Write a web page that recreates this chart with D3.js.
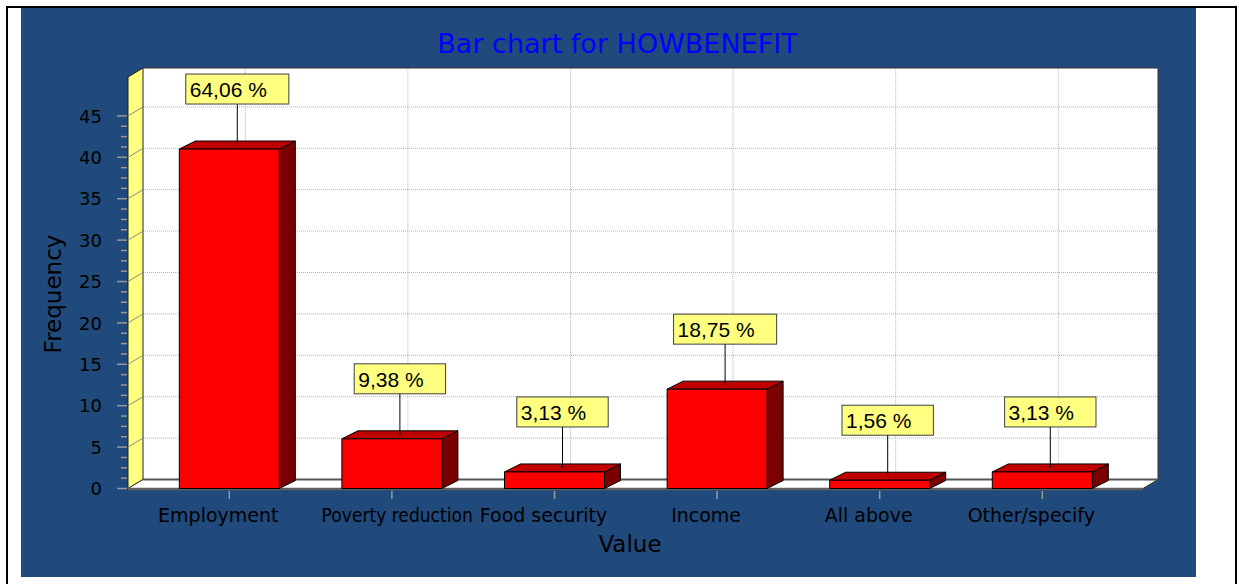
<!DOCTYPE html>
<html><head><meta charset="utf-8">
<script src="https://cdn.jsdelivr.net/npm/d3@7"></script>
<style>html,body{margin:0;padding:0;background:#fff;}svg{display:block;}</style>
</head><body>
<svg id="chart" width="1239" height="584"></svg>
<script>
const categories = ["Employment","Poverty reduction","Food security","Income","All above","Other/specify"];
const counts = [41, 6, 2, 12, 1, 2];
const percentLabels = ["64,06 %","9,38 %","3,13 %","18,75 %","1,56 %","3,13 %"];
const yTickValues = [0,5,10,15,20,25,30,35,40,45];
const yMinorStep = 1.25;
const yMax = 49.7;
const titleText = "Bar chart for HOWBENEFIT";
const xTitle = "Value", yTitle = "Frequency";

const svg = d3.select("#chart");
const W = 1239, H = 584;

// frame
svg.append("rect").attr("x",0).attr("y",0).attr("width",W).attr("height",H).attr("fill","#fff");
svg.append("rect").attr("x",21).attr("y",8).attr("width",1175).attr("height",569).attr("fill","#20497c");
svg.append("rect").attr("x",7).attr("y",7).attr("width",1229).attr("height",610)
  .attr("fill","none").attr("stroke","#000").attr("stroke-width",2);

// geometry
const frontL = 128, frontR = 1143;
const wdx = 15;            // wall depth
const bdx = 16, bdy = -8;  // bar depth
const yF = d3.scaleLinear().domain([0, yMax]).range([488.5, 77]);
const yB = d3.scaleLinear().domain([0, yMax]).range([479.5, 68]);
const x = d3.scaleBand().domain(categories).range([148, 1123.6]).padding(0);
const cx = c => x(c) + x.bandwidth()/2;
const barW = 100;

// back wall
svg.append("rect").attr("x",frontL+wdx).attr("y",yB(yMax))
  .attr("width",(frontR+wdx)-(frontL+wdx)).attr("height",yB(0)-yB(yMax))
  .attr("fill","#fff");
// grid
const grid = svg.append("g").attr("stroke","#b5b5b5").attr("stroke-width",1).attr("stroke-dasharray","1,1");
yTickValues.filter(t=>t>0).forEach(t=>{
  grid.append("line").attr("x1",frontL+wdx).attr("x2",frontR+wdx).attr("y1",yB(t)).attr("y2",yB(t));
});
categories.forEach(c=>{
  grid.append("line").attr("x1",cx(c)+bdx).attr("x2",cx(c)+bdx).attr("y1",yB(yMax)).attr("y2",yB(0));
});
// back wall outline top/right
svg.append("path").attr("d",`M${frontL+wdx},${yB(yMax)}H${frontR+wdx}V${yB(0)}`)
  .attr("fill","none").attr("stroke","#333").attr("stroke-width",1);

// left wall
svg.append("path")
  .attr("d",`M${frontL},${yF(yMax)}L${frontL+wdx},${yB(yMax)}L${frontL+wdx},${yB(0)}L${frontL},${yF(0)}Z`)
  .attr("fill","#ffff80").attr("stroke","#222").attr("stroke-width",1);
yTickValues.filter(t=>t>0).forEach(t=>{
  svg.append("line").attr("x1",frontL).attr("y1",yF(t)).attr("x2",frontL+wdx).attr("y2",yB(t))
    .attr("stroke","#8a8a8a").attr("stroke-width",1);
});

// floor
svg.append("path")
  .attr("d",`M${frontL},${yF(0)}L${frontL+wdx},${yB(0)}L${frontR+wdx},${yB(0)}L${frontR},${yF(0)}Z`)
  .attr("fill","#fff").attr("stroke","#333").attr("stroke-width",1);
svg.append("line").attr("x1",frontL+wdx).attr("x2",frontR+wdx).attr("y1",yB(0)).attr("y2",yB(0))
  .attr("stroke","#555").attr("stroke-width",2);
svg.append("line").attr("x1",frontL).attr("x2",frontR).attr("y1",yF(0)+0.5).attr("y2",yF(0)+0.5)
  .attr("stroke","#606060").attr("stroke-width",2.5);

// y axis ticks
const ax = svg.append("g");
const minorVals = d3.range(0, 45 + 0.001, yMinorStep).filter(v => Math.abs(v/5 - Math.round(v/5)) > 1e-6);
minorVals.forEach(v=>{
  ax.append("line").attr("x1",121).attr("x2",127).attr("y1",yF(v)).attr("y2",yF(v))
    .attr("stroke","#999").attr("stroke-width",1.5);
});
yTickValues.forEach(v=>{
  ax.append("line").attr("x1",117).attr("x2",127).attr("y1",yF(v)).attr("y2",yF(v))
    .attr("stroke","#999").attr("stroke-width",1.5);
  ax.append("text").attr("x",102).attr("y",yF(v)+6.7).attr("text-anchor","end")
    .attr("font-family","DejaVu Sans").attr("font-size",18).attr("fill","#000").text(v);
});

// x ticks + labels
categories.forEach(c=>{
  ax.append("line").attr("x1",cx(c)).attr("x2",cx(c)).attr("y1",491).attr("y2",499)
    .attr("stroke","#999").attr("stroke-width",1.5);
});
const labelNodes = [];
categories.forEach((c,i)=>{
  const t = ax.append("text").attr("y",522).attr("font-family","DejaVu Sans").attr("font-size",19)
    .attr("fill","#000").text(c);
  const w = t.node().getComputedTextLength();
  let left = cx(c) - 11 - w/2;
  if (w > x.bandwidth()) left = x(c) + wdx - 4;
  t.attr("x", left);
  labelNodes.push({t, left, w});
});
// squeeze a label slightly if it would run into the next one
labelNodes.forEach((d,i)=>{
  if (i < labelNodes.length-1) {
    const nextLeft = labelNodes[i+1].left;
    if (d.left + d.w > nextLeft - 7) {
      d.t.attr("textLength", nextLeft - 7 - d.left).attr("lengthAdjust","spacingAndGlyphs");
    }
  }
});

// bars
const bars = svg.append("g");
categories.forEach((c,i)=>{
  const v = counts[i];
  const x0 = cx(c) - barW/2, x1 = cx(c) + barW/2;
  const yt = yF(v), yb = yF(0);
  const g = bars.append("g").attr("stroke","#000").attr("stroke-width",1).attr("stroke-linejoin","round");
  g.append("path").attr("d",`M${x1},${yt}L${x1+bdx},${yt+bdy}L${x1+bdx},${yb+bdy}L${x1},${yb}Z`).attr("fill","#7a0000");
  g.append("path").attr("d",`M${x0},${yt}L${x0+bdx},${yt+bdy}L${x1+bdx},${yt+bdy}L${x1},${yt}Z`).attr("fill","#c00000");
  g.append("rect").attr("x",x0).attr("y",yt).attr("width",barW).attr("height",yb-yt).attr("fill","#ff0000");
});

// value labels
const lab = svg.append("g");
categories.forEach((c,i)=>{
  const v = counts[i];
  const lx = cx(c) + bdx/2;
  const boxBottom = yF(v) - 45, boxTop = boxBottom - 30;
  lab.append("line").attr("x1",lx).attr("x2",lx).attr("y1",boxBottom).attr("y2",yF(v)+bdy/2)
    .attr("stroke","#000").attr("stroke-width",1);
  const t = lab.append("text").attr("font-family","Liberation Sans, Arial").attr("font-size",21)
    .attr("fill","#000").text(percentLabels[i]);
  const w = t.node().getComputedTextLength();
  const bw = w + 26;
  lab.insert("rect","text").attr("x",lx - bw/2).attr("y",boxTop).attr("width",bw).attr("height",30)
    .attr("fill","#ffff80").attr("stroke","#404040").attr("stroke-width",1);
  t.attr("x", lx - bw/2 + 4).attr("y", boxTop + 23);
  t.raise();
});

// titles
svg.append("text").attr("x",617.5).attr("y",52.5).attr("text-anchor","middle")
  .attr("font-family","DejaVu Sans").attr("font-size",27).attr("fill","#0000ff").text(titleText);
svg.append("text").attr("x",630).attr("y",552).attr("text-anchor","middle")
  .attr("font-family","DejaVu Sans").attr("font-size",23).attr("fill","#000").text(xTitle);
svg.append("text").attr("transform","translate(61,294) rotate(-90)").attr("text-anchor","middle")
  .attr("font-family","DejaVu Sans").attr("font-size",23).attr("fill","#000").text(yTitle);
</script>
</body></html>
